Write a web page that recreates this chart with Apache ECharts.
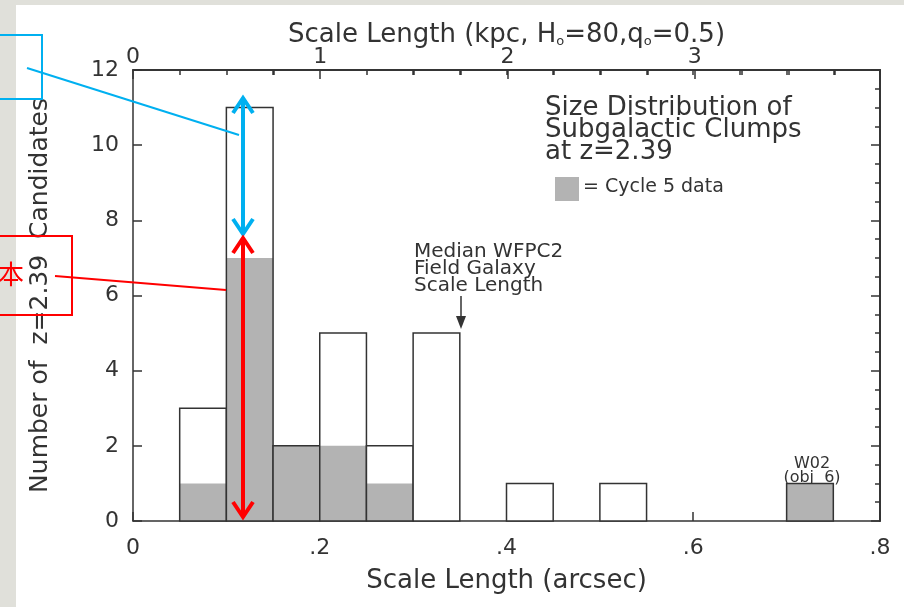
<!DOCTYPE html>
<html>
<head>
<meta charset="utf-8">
<script src="https://cdn.jsdelivr.net/npm/echarts@6/dist/echarts.min.js"></script>
<style>
  html, body { margin: 0; padding: 0; }
  #main { width: 904px; height: 607px; }
</style>
</head>
<body>
<div id="main"></div>
<script>
// histogram bins (arcsec), width 0.05
const binStart = [0.05, 0.10, 0.15, 0.20, 0.25, 0.30, 0.40, 0.50, 0.70]
const totalCount = [3, 11, 2, 5, 2, 5, 1, 1, 1]
const cycle5Count = [1, 7, 2, 2, 1, 0, 0, 0, 1]
const binWidth = 0.05
const kpcPerArcsec = 1 / 0.2005

const font = 'DejaVu Sans'
const ink = '#333'

const chartDom = document.getElementById('main')
const myChart = echarts.init(chartDom)

const data = binStart.map((x, i) => [x, totalCount[i], cycle5Count[i]])

// one axis = either the long labelled ticks or the short minor ones, all pointing inward
const tickAxis = (extra, len) => Object.assign({
  type: 'value',
  nameMoveOverlap: false,
  axisLine: { show: true, onZero: false, lineStyle: { color: ink, width: 1.5 } },
  axisTick: { show: true, inside: true, length: len, lineStyle: { color: ink, width: 1.5 } },
  splitLine: { show: false },
  axisLabel: { show: false }
}, extra)

// V shaped open arrow head
const chevron = (x, y, dir, color) => ({
  type: 'polyline',
  shape: { points: [[x - 10, y + dir * 15], [x, y], [x + 10, y + dir * 15]] },
  style: { stroke: color, lineWidth: 4, fill: 'none' },
  z: 20
})

const option = {
  backgroundColor: '#e0e0da',
  animation: false,
  grid: { left: 133, right: 24, top: 70, bottom: 86, containLabel: false },
  xAxis: [
    tickAxis({
      min: 0, max: 0.8, interval: 0.2,
      name: 'Scale Length (arcsec)', nameLocation: 'middle', nameGap: 47,
      nameTextStyle: { fontFamily: font, fontSize: 26, color: ink },
      axisLabel: {
        show: true, fontFamily: font, fontSize: 22, color: ink, margin: 16,
        formatter: v => v === 0 ? '0' : String(+v.toFixed(1)).replace(/^0/, '')
      }
    }, 9),
    tickAxis({ min: 0, max: 0.8, interval: 0.05 }, 5),
    tickAxis({
      position: 'top', min: 0, max: 0.8 * kpcPerArcsec, interval: 1,
      name: '{t|Scale Length (kpc, H}{s|o}{t|=80,q}{s|o}{t|=0.5)}', nameLocation: 'middle', nameGap: 22,
      nameTextStyle: {
        rich: {
          t: { fontFamily: font, fontSize: 26, color: ink },
          s: { fontFamily: font, fontSize: 13, color: ink, verticalAlign: 'bottom', padding: [12, 0, 0, 0] }
        }
      },
      axisLabel: { show: true, fontFamily: font, fontSize: 22, color: ink, margin: 2, showMaxLabel: false }
    }, 9),
    tickAxis({ position: 'top', min: 0, max: 0.8 * kpcPerArcsec, interval: 0.25 }, 5)
  ],
  yAxis: [
    tickAxis({
      min: 0, max: 12, interval: 2,
      name: 'Number of  z=2.39  Candidates', nameLocation: 'middle', nameGap: 80,
      nameTextStyle: { fontFamily: font, fontSize: 25, color: ink },
      axisLabel: { show: true, fontFamily: font, fontSize: 22, color: ink, margin: 14 }
    }, 9),
    tickAxis({ min: 0, max: 12, interval: 0.5 }, 5),
    tickAxis({ position: 'right', min: 0, max: 12, interval: 2 }, 9),
    tickAxis({ position: 'right', min: 0, max: 12, interval: 0.5 }, 5)
  ],
  series: [
    {
      type: 'custom',
      xAxisIndex: 0, yAxisIndex: 0,
      encode: { x: 0, y: 1 },
      data: data,
      renderItem: (params, api) => {
        const x0 = api.value(0)
        const h = api.value(1)
        const g = api.value(2)
        const base = api.coord([x0, 0])
        const top = api.coord([x0 + binWidth, h])
        const gTop = api.coord([x0 + binWidth, g])
        const w = top[0] - base[0]
        const children = [
          { type: 'rect', shape: { x: base[0], y: top[1], width: w, height: base[1] - top[1] }, style: { fill: '#fff' } }
        ]
        if (g > 0) {
          children.push({ type: 'rect', shape: { x: base[0], y: gTop[1], width: w, height: base[1] - gTop[1] }, style: { fill: '#b3b3b3' } })
        }
        children.push({ type: 'rect', shape: { x: base[0], y: top[1], width: w, height: base[1] - top[1] }, style: { fill: 'none', stroke: ink, lineWidth: 1.5 } })
        return { type: 'group', children }
      }
    }
  ],
  graphic: [
    // white page area
    { type: 'rect', shape: { x: 16, y: 5, width: 900, height: 610 }, style: { fill: '#fff' }, z: -10, silent: true },
    // title block
    {
      type: 'text', left: 545, top: 95,
      style: { text: 'Size Distribution of\nSubgalactic Clumps\nat z=2.39', fontFamily: font, fontSize: 26, lineHeight: 22, fill: ink }
    },
    { type: 'rect', shape: { x: 555, y: 177, width: 24, height: 24 }, style: { fill: '#b3b3b3' } },
    { type: 'text', left: 583, top: 178, style: { text: '= Cycle 5 data', fontFamily: font, fontSize: 19, fill: ink } },
    // median annotation
    {
      type: 'text', left: 414, top: 242,
      style: { text: 'Median WFPC2\nField Galaxy\nScale Length', fontFamily: font, fontSize: 20, lineHeight: 17, fill: ink }
    },
    { type: 'line', shape: { x1: 461, y1: 296, x2: 461, y2: 318 }, style: { stroke: ink, lineWidth: 1.5 } },
    { type: 'polygon', shape: { points: [[456, 316], [466, 316], [461, 329]] }, style: { fill: ink } },
    // W02 label
    {
      type: 'text', x: 812, y: 457,
      style: { text: 'W02\n(obj  6)', fontFamily: font, fontSize: 16, lineHeight: 14, fill: ink, align: 'center' }
    },
    // blue callout
    { type: 'rect', shape: { x: -10, y: 35, width: 52, height: 64 }, style: { fill: 'none', stroke: '#00b0f0', lineWidth: 2 }, z: 20 },
    { type: 'line', shape: { x1: 27, y1: 68, x2: 239, y2: 135 }, style: { stroke: '#00b0f0', lineWidth: 2 }, z: 20 },
    { type: 'line', shape: { x1: 243, y1: 99, x2: 243, y2: 233 }, style: { stroke: '#00b0f0', lineWidth: 4 }, z: 20 },
    chevron(243, 98, 1, '#00b0f0'),
    chevron(243, 234, -1, '#00b0f0'),
    // red callout
    { type: 'rect', shape: { x: -10, y: 236, width: 82, height: 79 }, style: { fill: 'none', stroke: '#ff0000', lineWidth: 2 }, z: 20 },
    { type: 'line', shape: { x1: 55, y1: 276, x2: 226, y2: 290 }, style: { stroke: '#ff0000', lineWidth: 2 }, z: 20 },
    { type: 'text', left: -2, top: 261, style: { text: '本', fontFamily: 'Noto Sans CJK SC', fontSize: 26, fill: '#ff0000' }, z: 20 },
    { type: 'line', shape: { x1: 243, y1: 239, x2: 243, y2: 516 }, style: { stroke: '#ff0000', lineWidth: 4 }, z: 20 },
    chevron(243, 238, 1, '#ff0000'),
    chevron(243, 517, -1, '#ff0000')
  ]
}
option && myChart.setOption(option)
</script>
</body>
</html>
